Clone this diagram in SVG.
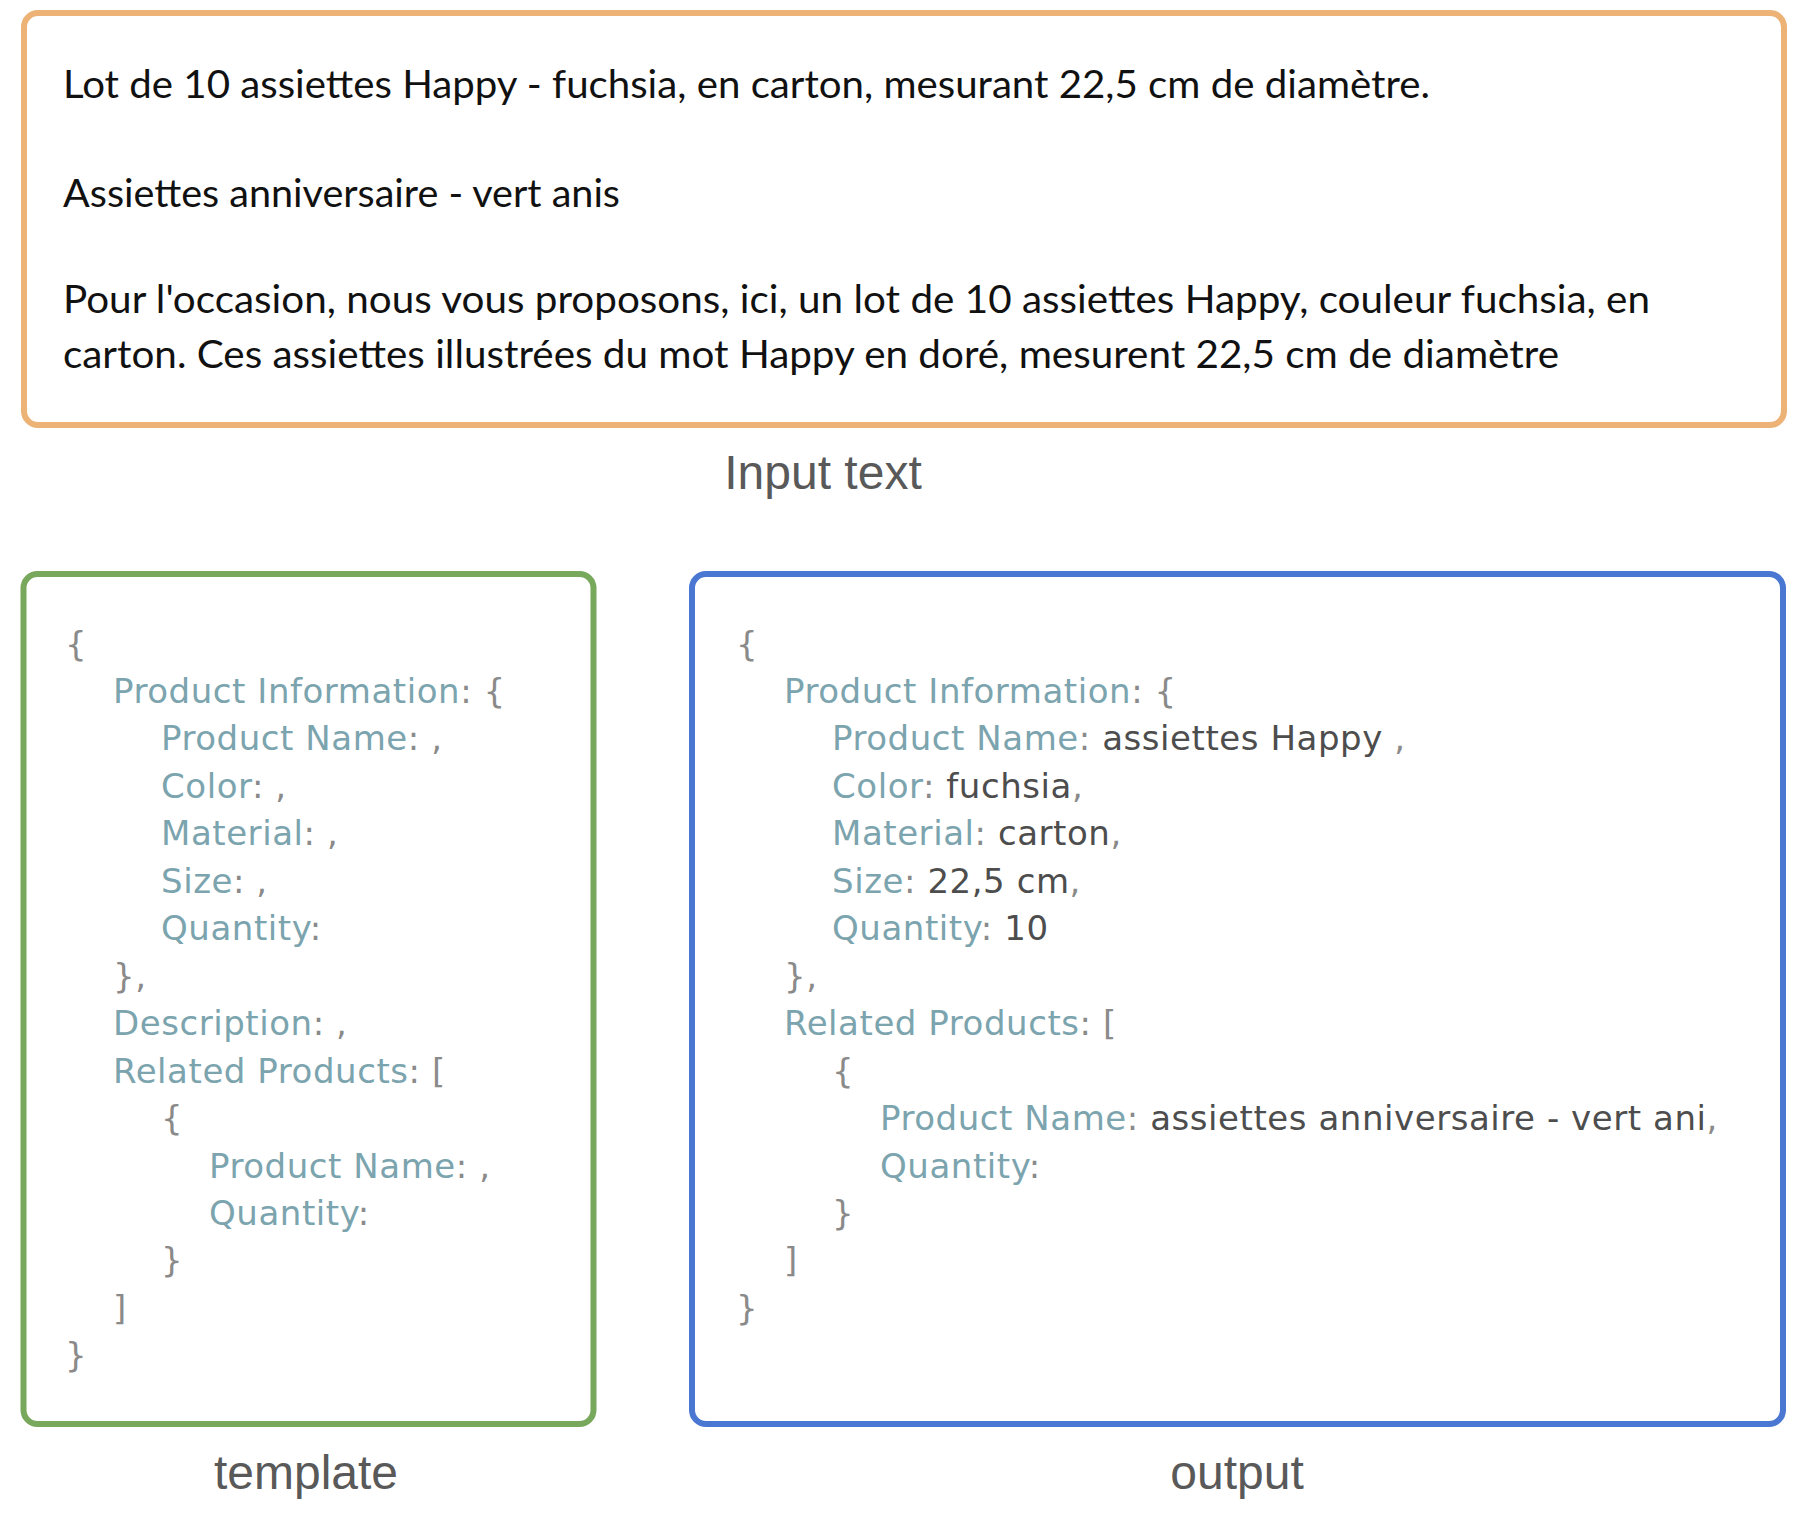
<svg xmlns="http://www.w3.org/2000/svg" width="1800" height="1526" viewBox="0 0 1800 1526">
<style>
.box{fill:#ffffff;stroke-width:6}
.in{font-family:"Lato","Noto Sans","DejaVu Sans",sans-serif;font-size:38px;fill:#111111}
.lbl{font-family:"Liberation Sans",Arial,sans-serif;font-size:48px;fill:#595959;text-anchor:middle}
.code{font-family:"DejaVu Sans",Verdana,sans-serif;font-size:34px;fill:#8a8a8a;letter-spacing:0.55px}
.k{fill:#7ba4ae}
.v{fill:#4d4d4d}
</style>
<rect width="1800" height="1526" fill="#ffffff"/>
<g id="input-text">
<rect class="box" x="24" y="13" width="1760" height="412" rx="14" stroke="#ecb276"/>
<text class="in" x="63" y="98" textLength="1367" lengthAdjust="spacingAndGlyphs">Lot de 10 assiettes Happy - fuchsia, en carton, mesurant 22,5 cm de diamètre.</text>
<text class="in" x="63" y="207" textLength="557" lengthAdjust="spacingAndGlyphs">Assiettes anniversaire - vert anis</text>
<text class="in" x="63" y="313" textLength="1587" lengthAdjust="spacingAndGlyphs">Pour l'occasion, nous vous proposons, ici, un lot de 10 assiettes Happy, couleur fuchsia, en</text>
<text class="in" x="63" y="368" textLength="1496" lengthAdjust="spacingAndGlyphs">carton. Ces assiettes illustrées du mot Happy en doré, mesurent 22,5 cm de diamètre</text>
<text class="lbl" x="823" y="489">Input text</text>
</g>
<g id="template">
<rect class="box" x="23.5" y="574" width="570" height="850" rx="14" stroke="#77a85b"/>
<g class="code">
<text x="65" y="655.5">{</text>
<text x="113" y="703"><tspan class="k">Product Information</tspan>: {</text>
<text x="161" y="750.4"><tspan class="k">Product Name</tspan>: ,</text>
<text x="161" y="797.9"><tspan class="k">Color</tspan>: ,</text>
<text x="161" y="845.3"><tspan class="k">Material</tspan>: ,</text>
<text x="161" y="892.8"><tspan class="k">Size</tspan>: ,</text>
<text x="161" y="940.2"><tspan class="k">Quantity</tspan>:</text>
<text x="113" y="987.7">},</text>
<text x="113" y="1035.1"><tspan class="k">Description</tspan>: ,</text>
<text x="113" y="1082.6"><tspan class="k">Related Products</tspan>: [</text>
<text x="161" y="1130">{</text>
<text x="209" y="1177.5"><tspan class="k">Product Name</tspan>: ,</text>
<text x="209" y="1224.9"><tspan class="k">Quantity</tspan>:</text>
<text x="161" y="1272.4">}</text>
<text x="113" y="1319.8">]</text>
<text x="65" y="1367.3">}</text>
</g>
<text class="lbl" x="306" y="1489">template</text>
</g>
<g id="output">
<rect class="box" x="692" y="574" width="1091" height="850" rx="14" stroke="#4a77d2"/>
<g class="code">
<text x="736" y="655.5">{</text>
<text x="784" y="703"><tspan class="k">Product Information</tspan>: {</text>
<text x="832" y="750.4"><tspan class="k">Product Name</tspan>: <tspan class="v">assiettes Happy</tspan> ,</text>
<text x="832" y="797.9"><tspan class="k">Color</tspan>: <tspan class="v">fuchsia</tspan>,</text>
<text x="832" y="845.3"><tspan class="k">Material</tspan>: <tspan class="v">carton</tspan>,</text>
<text x="832" y="892.8"><tspan class="k">Size</tspan>: <tspan class="v">22,5 cm</tspan>,</text>
<text x="832" y="940.2"><tspan class="k">Quantity</tspan>: <tspan class="v">10</tspan></text>
<text x="784" y="987.7">},</text>
<text x="784" y="1035.1"><tspan class="k">Related Products</tspan>: [</text>
<text x="832" y="1082.6">{</text>
<text x="880" y="1130"><tspan class="k">Product Name</tspan>: <tspan class="v">assiettes anniversaire - vert ani</tspan>,</text>
<text x="880" y="1177.5"><tspan class="k">Quantity</tspan>:</text>
<text x="832" y="1224.9">}</text>
<text x="784" y="1272.4">]</text>
<text x="736" y="1319.8">}</text>
</g>
<text class="lbl" x="1237" y="1489">output</text>
</g>
</svg>
